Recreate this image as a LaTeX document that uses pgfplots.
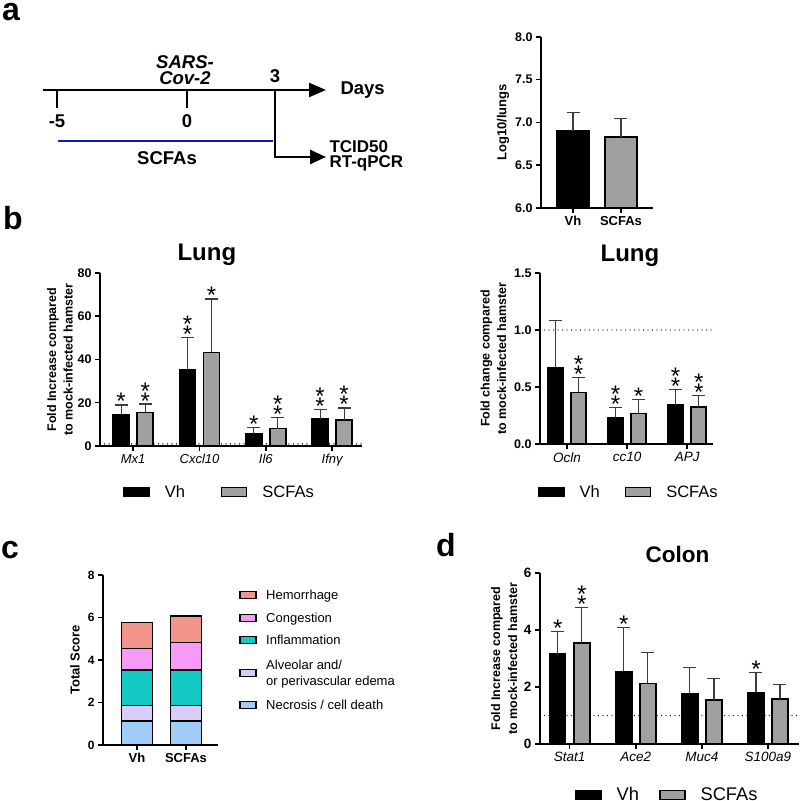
\documentclass[border=0pt]{standalone}
\usepackage{pgfplots}
\pgfplotsset{compat=1.18}
\usepackage{fontspec}
\setmainfont{Liberation Sans}
\usetikzlibrary{arrows.meta}
\definecolor{bgray}{RGB}{160,160,160}
\definecolor{hem}{RGB}{242,150,140}
\definecolor{cong}{RGB}{245,155,245}
\definecolor{infl}{RGB}{20,200,195}
\definecolor{edem}{RGB}{215,205,245}
\definecolor{necr}{RGB}{160,205,245}
\definecolor{tblue}{RGB}{20,20,200}
\definecolor{errc}{RGB}{60,60,60}
\newcommand{\fs}[1]{\fontsize{#1}{#1}\selectfont}
\newcommand{\fss}[2]{\fontsize{#1}{#2}\selectfont}
\newcommand{\sone}[2]{\node[anchor=base,font=\fs{24},inner sep=0pt,yshift=-5pt] at (axis cs:#1,#2) {*};}
\newcommand{\stwo}[2]{\sone{#1}{#2}\node[anchor=base,font=\fs{24},inner sep=0pt,yshift=5pt] at (axis cs:#1,#2) {*};}
\newcommand{\cleg}[3]{\draw[fill=#1, draw=black, line width=1.5pt] (240,#2-3.5) rectangle (256,#2+3.5);}
\pgfplotsset{
  base/.style={
    scale only axis, anchor=south west,
    axis lines*=left,
    axis line style={line width=1.5pt},
    tick style={line width=1.5pt, black},
    major tick length=5pt, tick align=outside,
    /pgf/number format/assume math mode=true,
    yticklabel style={font=\fs{12.5}\bfseries},
    clip=false, axis on top,
  },
  err/.style={
    error bars/y dir=plus, error bars/y explicit,
    error bars/error bar style={line width=1.2pt, errc},
    error bars/error mark options={rotate=90, mark size=6.5pt, line width=1.2pt, errc},
  },
  sq/.style={legend image code/.code={\draw[##1, line width=1.5pt] (0pt,-4.5pt) rectangle (25pt,4.5pt);}},
  dotl/.style={forget plot, black, line width=1.4pt, dash pattern=on 0pt off 4.5pt, line cap=round},
}
\begin{document}
\begin{tikzpicture}[x=1pt,y=1pt]
\useasboundingbox (0,0) rectangle (800,801);
% panel letters
\node[font=\fs{32}\bfseries] at (11,789) {a};
\node[font=\fs{32}\bfseries] at (13,583) {b};
\node[font=\fs{32}\bfseries] at (10,251) {c};
\node[font=\fs{32}\bfseries] at (446,256) {d};
% timeline
\begin{scope}[line width=2.5pt]
\draw[-{Triangle[length=17pt,width=14pt]}] (43,711) -- (326,711);
\draw (57,711) -- (57,693);
\draw (187,711) -- (187,693);
\draw[-{Triangle[length=16pt,width=14pt]}] (275,711) -- (275,644) -- (326,644);
\draw[tblue] (58,660) -- (273,660);
\end{scope}
\begin{scope}[font=\fs{18.5}\bfseries]
\node at (185,739) {\itshape SARS-};
\node at (185,723) {\itshape Cov-2};
\node at (275,725) {3};
\node[anchor=west] at (337,711) {Days};
\node at (57,680) {-5};
\node at (187,680) {0};
\node at (167,643) {SCFAs};
\node[anchor=west,font=\fs{17}\bfseries] at (326,654) {TCID50};
\node[anchor=west,font=\fs{17}\bfseries] at (326,638) {RT-qPCR};
\end{scope}
% panel a bars
\begin{axis}[base, at={(541pt,593pt)}, width=112pt, height=171pt, clip=true,
  xmin=-0.667, xmax=1.667, ymin=6, ymax=8, ytick={6,6.5,7,7.5,8},
  yticklabel style={/pgf/number format/fixed, /pgf/number format/fixed zerofill, /pgf/number format/precision=1},
  xtick={0,1}, xticklabels={Vh,SCFAs}, xticklabel style={font=\fs{13}\bfseries},
  ylabel={Log10/lungs}, ylabel style={font=\fs{13}\bfseries, at={(axis description cs:-0.339,0.5)}, anchor=center}]
\addplot[ybar, err, bar width=32pt, fill=black, draw=black, line width=1.5pt] coordinates {(0,6.90) +- (0,0.22)};
\addplot[ybar, err, bar width=32pt, fill=bgray, draw=black, line width=1.5pt] coordinates {(1,6.83) +- (0,0.22)};
\end{axis}
% panel b left
\begin{axis}[base, at={(100pt,355pt)}, width=262pt, height=173pt,
  xmin=-0.5, xmax=3.45, ymin=0, ymax=80, ytick={0,20,40,60,80},
  xtick={0,1,2,3}, xticklabels={Mx1,Cxcl10,Il6,Ifnγ}, xticklabel style={font=\fs{13}\itshape},
  ylabel={Fold Increase compared\\to mock-infected hamster},
  ylabel style={font=\fss{12.5}{16.5}\bfseries, align=center, at={(axis description cs:-0.153,0.5)}, anchor=center},
  title={Lung}, title style={font=\fs{24}\bfseries, at={(axis description cs:0.408,1.035)}, anchor=base},
  legend style={at={(axis description cs:0.088,-0.266)}, anchor=west, draw=none, fill=none, inner sep=0pt,
    font=\fs{16.5}, legend columns=2, nodes={inner sep=0pt},
    /tikz/every odd column/.append style={column sep=15pt},
    /tikz/every even column/.append style={column sep=36pt}}]
\addplot[dotl] coordinates {(-0.5,1) (3.45,1)};
\addplot[sq, ybar, err, bar width=16pt, bar shift=0pt, fill=black, draw=black, line width=1.5pt]
  coordinates {(-0.181,14.5) +- (0,4.5) (0.819,35.2) +- (0,15.0) (1.819,5.6) +- (0,2.8) (2.819,12.4) +- (0,4.5)};
\addplot[sq, ybar, err, bar width=16pt, bar shift=0pt, fill=bgray, draw=black, line width=1.5pt]
  coordinates {(0.181,15.6) +- (0,3.8) (1.181,43.3) +- (0,24.7) (2.181,8.0) +- (0,5.2) (3.181,12.1) +- (0,5.5)};
\legend{Vh,SCFAs}
\sone{-0.181}{19.0}\stwo{0.181}{19.4}
\stwo{0.819}{50.2}\sone{1.181}{68.0}
\sone{1.819}{8.4}\stwo{2.181}{13.2}
\stwo{2.819}{16.9}\stwo{3.181}{17.6}
\end{axis}
% panel b right
\begin{axis}[base, at={(540pt,357pt)}, width=173pt, height=171pt,
  xmin=-0.45, xmax=2.43, ymin=0, ymax=1.5, ytick={0,0.5,1,1.5},
  yticklabel style={/pgf/number format/fixed, /pgf/number format/fixed zerofill, /pgf/number format/precision=1},
  xtick={0,1,2}, xticklabels={Ocln,cc10,APJ}, xticklabel style={font=\fs{13.5}\itshape},
  ylabel={Fold change compared\\to mock-infected hamster},
  ylabel style={font=\fss{12.5}{16.5}\bfseries, align=center, at={(axis description cs:-0.269,0.5)}, anchor=center},
  title={Lung}, title style={font=\fs{24}\bfseries, at={(axis description cs:0.52,1.035)}, anchor=base},
  legend style={at={(axis description cs:-0.012,-0.281)}, anchor=west, draw=none, fill=none, inner sep=0pt,
    font=\fs{16.5}, legend columns=2, nodes={inner sep=0pt},
    /tikz/every odd column/.append style={column sep=15pt},
    /tikz/every even column/.append style={column sep=25pt}}]
\addplot[dotl] coordinates {(-0.45,1) (2.43,1)};
\addplot[sq, ybar, err, bar width=15pt, bar shift=0pt, fill=black, draw=black, line width=1.5pt]
  coordinates {(-0.192,0.673) +- (0,0.413) (0.808,0.227) +- (0,0.096) (1.808,0.341) +- (0,0.134)};
\addplot[sq, ybar, err, bar width=15pt, bar shift=0pt, fill=bgray, draw=black, line width=1.5pt]
  coordinates {(0.192,0.452) +- (0,0.128) (1.192,0.268) +- (0,0.119) (2.192,0.326) +- (0,0.102)};
\legend{Vh,SCFAs}
\stwo{0.192}{0.58}
\stwo{0.808}{0.323}\sone{1.192}{0.387}
\stwo{1.808}{0.475}\stwo{2.192}{0.428}
\end{axis}
% panel c
\begin{axis}[base, at={(103pt,56pt)}, width=115pt, height=170pt,
  xmin=-0.694, xmax=1.653, ymin=0, ymax=8, ytick={0,2,4,6,8},
  yticklabel style={font=\fs{12}\bfseries},
  xtick={0,1}, xticklabels={Vh,SCFAs}, xticklabel style={font=\fs{13}\bfseries},
  ylabel={Total Score}, ylabel style={font=\fs{13}\bfseries, at={(axis description cs:-0.243,0.5)}, anchor=center},
  ybar stacked, bar width=31pt]
\addplot[fill=necr, draw=black, line width=1.5pt] coordinates {(0,1.12) (1,1.12)};
\addplot[fill=edem, draw=black, line width=1.5pt] coordinates {(0,0.73) (1,0.73)};
\addplot[fill=infl, draw=black, line width=1.5pt] coordinates {(0,1.67) (1,1.67)};
\addplot[fill=cong, draw=black, line width=1.5pt] coordinates {(0,1.01) (1,1.31)};
\addplot[fill=hem, draw=black, line width=1.5pt] coordinates {(0,1.23) (1,1.25)};
\end{axis}
% panel c legend
\begin{scope}[font=\fs{13}]
\cleg{hem}{206}{}\node[anchor=base west,inner sep=0pt] at (266,201.4) {Hemorrhage};
\cleg{cong}{183}{}\node[anchor=base west,inner sep=0pt] at (266,178.4) {Congestion};
\cleg{infl}{161}{}\node[anchor=base west,inner sep=0pt] at (266,156.4) {Inflammation};
\cleg{edem}{128}{}\node[anchor=base west,inner sep=0pt] at (266,131.4) {Alveolar and/};
\node[anchor=base west,inner sep=0pt] at (266,115.4) {or perivascular edema};
\cleg{necr}{96}{}\node[anchor=base west,inner sep=0pt] at (266,91.4) {Necrosis / cell death};
\end{scope}
% panel d
\begin{axis}[base, at={(540pt,57pt)}, width=259pt, height=171pt,
  xmin=-0.45, xmax=3.47, ymin=0, ymax=6, ytick={0,2,4,6},
  yticklabel style={font=\fs{13.5}\bfseries},
  xtick={0,1,2,3}, xticklabels={Stat1,Ace2,Muc4,S100a9}, xticklabel style={font=\fs{13.5}\itshape},
  ylabel={Fold Increase compared\\to mock-infected hamster},
  ylabel style={font=\fss{12.5}{17}\bfseries, align=center, at={(axis description cs:-0.138,0.5)}, anchor=center},
  title={Colon}, title style={font=\fs{22.5}\bfseries, at={(axis description cs:0.531,1.029)}, anchor=base},
  legend style={at={(axis description cs:0.135,-0.298)}, anchor=west, draw=none, fill=none, inner sep=0pt,
    font=\fs{18.3}, legend columns=2, nodes={inner sep=0pt},
    /tikz/every odd column/.append style={column sep=15pt},
    /tikz/every even column/.append style={column sep=20pt}}]
\addplot[dotl] coordinates {(-0.45,1) (3.47,1)};
\addplot[sq, ybar, err, bar width=16pt, bar shift=0pt, fill=black, draw=black, line width=1.5pt]
  coordinates {(-0.182,3.16) +- (0,0.78) (0.818,2.55) +- (0,1.54) (1.818,1.76) +- (0,0.92) (2.818,1.81) +- (0,0.69)};
\addplot[sq, ybar, err, bar width=16pt, bar shift=0pt, fill=bgray, draw=black, line width=1.5pt]
  coordinates {(0.182,3.55) +- (0,1.23) (1.182,2.13) +- (0,1.07) (2.182,1.55) +- (0,0.75) (3.182,1.58) +- (0,0.52)};
\legend{Vh,SCFAs}
\sone{-0.182}{3.94}\stwo{0.182}{4.78}
\sone{0.818}{4.09}
\sone{2.818}{2.50}
\end{axis}
\end{tikzpicture}
\end{document}
